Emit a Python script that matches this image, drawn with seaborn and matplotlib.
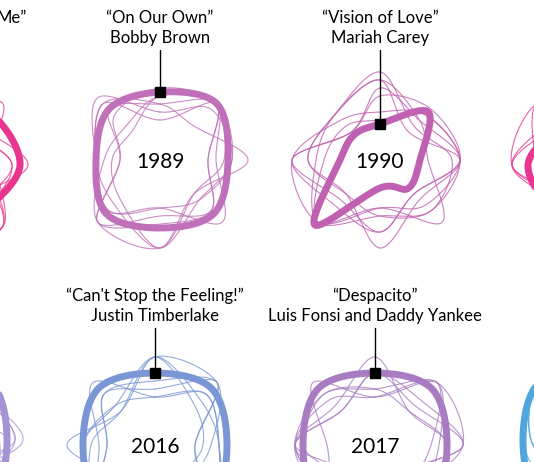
import numpy as np
import pandas as pd
import matplotlib
matplotlib.use("Agg")
import matplotlib.pyplot as plt
import seaborn as sns

sns.set_theme(style="white")
plt.rcParams['font.family'] = ['Lato', 'DejaVu Sans']

# radii (fraction of panel size) at 8 angles, clockwise from top
years = ["", "1989", "1990", "", "", "2016", "2017", ""]
titles = [("Me”", ""), ("“On Our Own”", "Bobby Brown"), ("“Vision of Love”", "Mariah Carey"), ("", ""),
          ("", ""), ("“Can't Stop the Feeling!”", "Justin Timberlake"), ("“Despacito”", "Luis Fonsi and Daddy Yankee"), ("", "")]
colors = ["#e8358f", "#c070b8", "#c060b0", "#e8358f", "#a393d3", "#7b96d4", "#a87cc0", "#4ea6dc"]
main_r = [
    [0.7, 0.9, 1.0, 0.8, 0.9, 0.6, 0.7, 0.8],
    [0.85, 1.0, 0.85, 0.95, 0.85, 0.95, 0.8, 0.9],
    [0.45, 0.85, 0.5, 0.5, 0.35, 1.15, 0.5, 0.45],
    [0.8, 0.7, 0.9, 1.0, 0.7, 0.8, 0.9, 0.7],
    [0.9, 1.0, 0.9, 1.0, 0.9, 1.0, 0.9, 1.0],
    [0.9, 1.0, 0.9, 1.0, 0.9, 1.0, 0.9, 1.0],
    [0.9, 1.0, 0.9, 1.0, 0.9, 1.0, 0.9, 1.0],
    [0.9, 1.0, 0.9, 1.0, 0.9, 1.0, 0.9, 1.0],
]
thin_r = [
    [1.0, 0.6, 0.9, 0.7, 1.1, 0.5, 0.8, 0.9],
    [0.7, 1.1, 0.6, 0.9, 0.8, 1.0, 0.5, 1.0],
    [0.9, 0.8, 1.1, 0.5, 0.9, 0.7, 1.0, 0.6],
    [0.6, 0.9, 0.8, 1.1, 0.6, 0.9, 0.9, 0.7],
    [1.1, 0.7, 0.6, 0.8, 1.0, 0.8, 0.6, 1.1],
    [0.8, 1.0, 0.7, 0.6, 1.1, 0.6, 1.1, 0.8],
    [0.5, 0.8, 1.0, 0.9, 0.7, 1.1, 0.7, 0.6],
]
centers = [(-60, 165), (160, 160), (380, 160), (600, 165),
           (-65, 440), (155, 445), (375, 445), (595, 440)]
scale = 80

def closed_curve(r, cx, cy, n=30):
    ang = np.pi / 2 - np.arange(len(r)) * 2 * np.pi / len(r)
    p = np.c_[cx + scale * np.array(r) * np.cos(ang), cy - scale * np.array(r) * np.sin(ang)]
    m = len(p); out = []
    t = np.linspace(0, 1, n, endpoint=False)[:, None]
    for i in range(m):
        p0, p1, p2, p3 = p[i - 1], p[i], p[(i + 1) % m], p[(i + 2) % m]
        out.append(0.5 * ((2 * p1) + (-p0 + p2) * t + (2 * p0 - 5 * p1 + 4 * p2 - p3) * t**2
                          + (-p0 + 3 * p1 - 3 * p2 + p3) * t**3))
    out = np.vstack(out + [p[:1]])
    return out, p[0]

fig = plt.figure(figsize=(5.34, 4.62), dpi=100)
ax = fig.add_axes([0, 0, 1, 1])
for k, (cx, cy) in enumerate(centers):
    c = colors[k]
    for j, r in enumerate(thin_r):
        rr = np.roll(r, k + j)
        xy, _ = closed_curve(rr, cx, cy)
        sns.lineplot(x=xy[:, 0], y=xy[:, 1], sort=False, ax=ax, color=c, lw=0.8, alpha=0.8, estimator=None)
    xy, top = closed_curve(main_r[k], cx, cy)
    sns.lineplot(x=xy[:, 0], y=xy[:, 1], sort=False, ax=ax, color=c, lw=5, estimator=None)
    t1, t2 = titles[k]
    ty = 18 if k < 4 else 296
    if t1:
        ax.text(cx if k != 0 else 12, ty, t1, ha="center", va="center", fontsize=12, color="black")
        ax.text(cx, ty + 20, t2, ha="center", va="center", fontsize=12, color="black")
        if k in (1, 2, 5, 6):
            ax.plot([top[0], top[0]], [ty + 32, top[1]], color="black", lw=1)
            ax.plot(top[0], top[1], "s", color="black", ms=7)
    if years[k]:
        ax.text(cx, cy + 2, years[k], ha="center", va="center", fontsize=15, color="black")
ax.set_xlim(0, 534); ax.set_ylim(462, 0)
ax.axis("off")
fig.savefig("out.png", dpi=100)
